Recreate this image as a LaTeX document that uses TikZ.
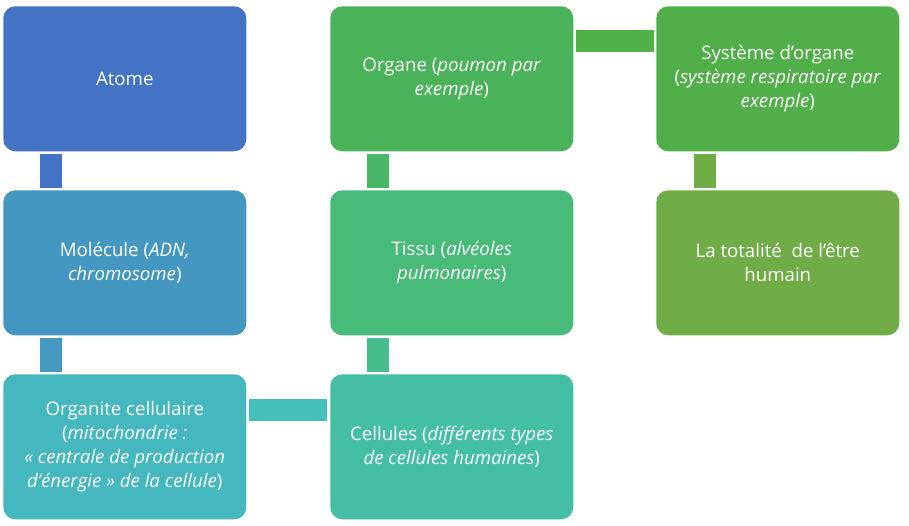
\documentclass[tikz,border=0pt]{standalone}
\usepackage{fontspec}
\setmainfont{Open Sans}
\usetikzlibrary{calc}
\definecolor{cAtome}{RGB}{68,114,196}
\definecolor{cMol}{RGB}{67,151,193}
\definecolor{cOrg}{RGB}{69,183,191}
\definecolor{cCel}{RGB}{69,191,163}
\definecolor{cTis}{RGB}{72,187,122}
\definecolor{cOrn}{RGB}{74,179,90}
\definecolor{cSys}{RGB}{80,175,72}
\definecolor{cTot}{RGB}{112,173,71}
\definecolor{kAM}{RGB}{68,114,196}
\definecolor{kMO}{RGB}{67,153,192}
\definecolor{kOC}{RGB}{68,192,184}
\definecolor{kCT}{RGB}{71,188,140}
\definecolor{kTO}{RGB}{72,184,104}
\definecolor{kOS}{RGB}{79,177,72}
\definecolor{kST}{RGB}{112,173,71}
\tikzset{
  box/.style={fill=#1, draw=none, rounded corners=9pt, minimum width=182.25pt, minimum height=108.75pt,
    text=white, align=center, inner sep=0pt, font=\fontsize{14}{18}\selectfont, anchor=north west},
  conn/.style={draw=#1, line width=16.5pt}
}
\begin{document}
\begin{tikzpicture}[x=0.75pt,y=-0.75pt]
\useasboundingbox (0,0) rectangle (909,525);
\node[box=cAtome] (atome) at (3,6) {Atome};
\node[box=cMol] (mol) at (3,190) {Molécule (\textit{ADN,}\\\textit{chromosome})};
\node[box=cOrg] (orga) at (3,374) {Organite cellulaire\\(\textit{mitochondrie :}\\\textit{« centrale de production}\\\textit{d’énergie » de la cellule})};
\node[box=cCel] (cel) at (330,374) {Cellules (\textit{différents types}\\\textit{de cellules humaines})};
\node[box=cTis] (tis) at (330,190) {Tissu (\textit{alvéoles}\\\textit{pulmonaires})};
\node[box=cOrn] (orn) at (330,6) {Organe (\textit{poumon par}\\\textit{exemple})};
\node[box=cSys] (sys) at (656,6) {Système d’organe\\(\textit{système respiratoire par}\\\textit{exemple})};
\node[box=cTot] (tot) at (656,190) {La totalité~ de l’être\\humain};
\draw[conn=kAM] ($(atome.south west)+(48,2)$) -- ($(mol.north west)+(48,-2)$);
\draw[conn=kMO] ($(mol.south west)+(48,2)$) -- ($(orga.north west)+(48,-2)$);
\draw[conn=kOC] ($(orga.north east)+(2,35.5)$) -- ($(cel.north west)+(-3,35.5)$);
\draw[conn=kCT] ($(cel.north west)+(48,-2)$) -- ($(tis.south west)+(48,2)$);
\draw[conn=kTO] ($(tis.north west)+(48,-2)$) -- ($(orn.south west)+(48,2)$);
\draw[conn=kOS] ($(orn.north east)+(2,35)$) -- ($(sys.north west)+(-2,35)$);
\draw[conn=kST] ($(sys.south west)+(49,2)$) -- ($(tot.north west)+(49,-2)$);
\end{tikzpicture}
\end{document}
